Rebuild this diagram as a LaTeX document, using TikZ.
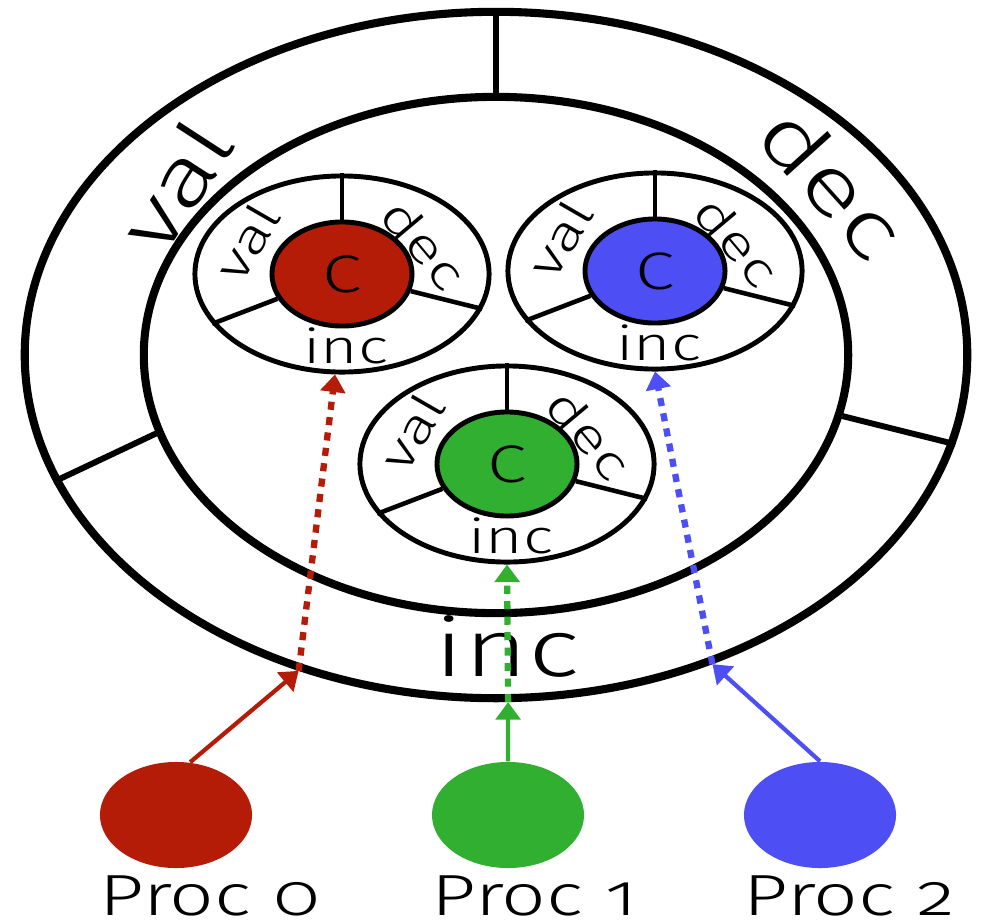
\documentclass[tikz,border=0pt]{standalone}
\usepackage{fontspec}
\setmainfont[Numbers=OldStyle, FakeStretch=1.35]{Fira Sans Light}
\usetikzlibrary{arrows.meta, shapes.geometric, calc}

\definecolor{procred}{RGB}{180,28,8}
\definecolor{procgreen}{RGB}{48,175,48}
\definecolor{procblue}{RGB}{78,78,245}

\begin{document}
\begin{tikzpicture}[x=0.01cm, y=0.01cm, >={Triangle[length=5pt, width=7pt]},
    ring/.style={draw, ellipse, line width=2.3pt, inner sep=0pt},
    smallring/.style={draw, ellipse, line width=1.4pt, inner sep=0pt, minimum width=2.94cm, minimum height=1.96cm},
    core/.style={draw, ellipse, line width=1.4pt, inner sep=0pt, minimum width=1.4cm, minimum height=1.04cm, font=\fontsize{15}{15}\selectfont},
    proc/.style={ellipse, inner sep=0pt, minimum width=1.52cm, minimum height=1.06cm},
    biglabel/.style={inner sep=0pt, font=\fontsize{23}{23}\selectfont},
    smalllabel/.style={inner sep=0pt, font=\fontsize{13.5}{13.5}\selectfont},
    proclabel/.style={inner sep=0pt, anchor=base west, font=\fontsize{16.5}{16.5}\selectfont},
    feed/.style={->, line width=1.2pt},
    pass/.style={->, line width=1.8pt, dash pattern=on 2.3pt off 2.1pt}]
  \useasboundingbox (0,0) rectangle (985,923);

  % shared counter, split into val / dec / inc
  \node[ring, minimum width=9.42cm, minimum height=6.86cm] (outer) at (496,568) {};
  \node[ring, minimum width=7.04cm, minimum height=5.16cm] (inner) at (496,568) {};
  \foreach \a/\b in {90/90, 193/196, -10.5/-11}
    \draw[line width=1.7pt] (inner.\a) -- (outer.\b);
  \node[biglabel, rotate=57] (val) at (175,738) {val};
  \node[biglabel, rotate=-48] (dec) at (833,741) {dec};
  \node[biglabel] (inc) at (507,277) {inc};

  % one local copy per process
  \foreach \n/\pos/\col in {0/{342,649}/procred, 1/{507,459}/procgreen, 2/{655,652}/procblue} {
    \node[smallring] (ring\n) at (\pos) {};
    \node[core, fill=\col] (core\n) at (\pos) {C};
    \foreach \a in {90,201,-14}
      \draw[line width=1.3pt] (core\n.\a) -- (ring\n.\a);
    \node[smalllabel, rotate=60] (val\n) at ($(ring\n)+(-95,32)$) {val};
    \node[smalllabel, rotate=-50] (dec\n) at ($(ring\n)+(82,30)$) {dec};
    \node[smalllabel] (inc\n) at ($(ring\n)+(4,-72)$) {inc};
  }

  % processes
  \node[proc, fill=procred] (p0) at (176,108) {};
  \node[proc, fill=procgreen] (p1) at (508,108) {};
  \node[proc, fill=procblue] (p2) at (820,108) {};
  \node[proclabel] (l0) at (p0.west |- 0,8) {Proc 0};
  \node[proclabel] (l1) at (p1.west |- 0,8) {Proc 1};
  \node[proclabel] (l2) at (p2.west |- 0,8) {Proc 2};

  \draw[feed, procred] (p0.75) -- (outer.238);
  \draw[pass, procred] (outer.238) -- (ring0.266);
  \draw[feed, procgreen] (p1.north) -- (outer.272);
  \draw[pass, procgreen] (outer.272) -- (ring1.south);
  \draw[feed, procblue] (p2.north) -- (outer.305);
  \draw[pass, procblue] (outer.305) -- (ring2.south);
\end{tikzpicture}
\end{document}
